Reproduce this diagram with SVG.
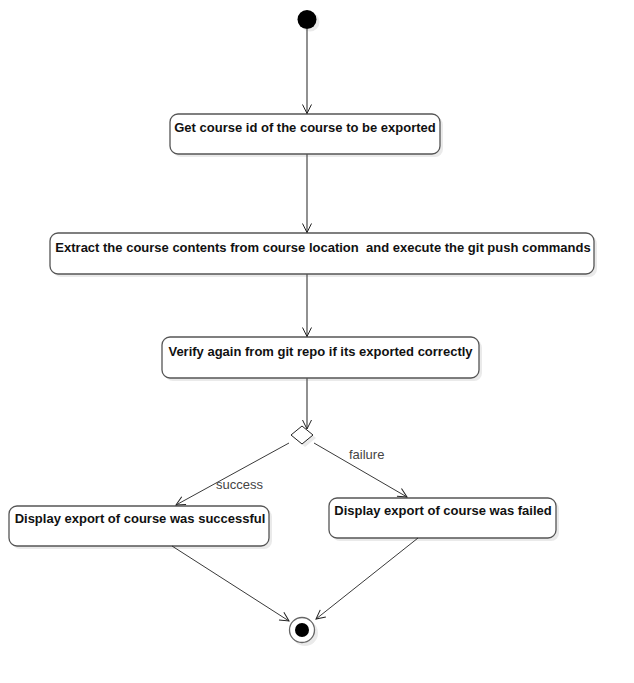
<svg xmlns="http://www.w3.org/2000/svg" width="634" height="683" viewBox="0 0 634 683">
<style>
.box{fill:#fff;stroke:#555;stroke-width:1.3}
.shadow{fill:#eaeaea;stroke:none}
.t{font-family:"Liberation Sans",Arial,sans-serif;font-size:13px;font-weight:bold;fill:#111;text-anchor:middle;white-space:pre}
.lbl{font-family:"Liberation Sans",Arial,sans-serif;font-size:13px;fill:#444}
.v{stroke:#555;stroke-width:1.3;fill:none}
.d{stroke:#222;stroke-width:0.9;fill:none}
</style>
<defs>
<marker id="arr" markerWidth="12" markerHeight="12" refX="10" refY="6" orient="auto" markerUnits="userSpaceOnUse">
<path d="M1,1.5 L10,6 L1,10.5" fill="none" stroke="#222" stroke-width="1"/>
</marker>
</defs>
<rect width="634" height="683" fill="#fff"/>
<g id="start">
<circle cx="310" cy="22" r="9.5" class="shadow"/>
<circle cx="307" cy="19.5" r="9.5" fill="#000"/>
</g>
<g id="n1">
<rect x="173" y="117" width="270" height="40" rx="8" class="shadow"/>
<rect x="170" y="114" width="270" height="40" rx="8" class="box"/>
<text x="305" y="131.5" class="t">Get course id of the course to be exported</text>
</g>
<g id="n2">
<rect x="53" y="236" width="544" height="41" rx="8" class="shadow"/>
<rect x="50" y="233" width="544" height="41" rx="8" class="box"/>
<text x="323" y="251.5" class="t" xml:space="preserve">Extract the course contents from course location  and execute the git push commands</text>
</g>
<g id="n3">
<rect x="165" y="340" width="317" height="41" rx="8" class="shadow"/>
<rect x="162" y="337" width="317" height="41" rx="8" class="box"/>
<text x="320.5" y="355.5" class="t">Verify again from git repo if its exported correctly</text>
</g>
<g id="decision">
<polygon points="305,429 316,438 305,447 294,438" class="shadow"/>
<polygon points="302,426 313,435 302,444 291,435" fill="#fff" stroke="#222" stroke-width="1"/>
</g>
<g id="n4">
<rect x="12" y="509" width="260" height="40" rx="8" class="shadow"/>
<rect x="9" y="506" width="260" height="40" rx="8" class="box"/>
<text x="140" y="522.5" class="t">Display export of course was successful</text>
</g>
<g id="n5">
<rect x="332" y="501" width="227" height="40" rx="8" class="shadow"/>
<rect x="329" y="498" width="227" height="40" rx="8" class="box"/>
<text x="443" y="514.5" class="t">Display export of course was failed</text>
</g>
<g id="end">
<circle cx="305" cy="633" r="13" class="shadow"/>
<circle cx="302" cy="630" r="12.5" fill="#fff" stroke="#666" stroke-width="1.3"/>
<circle cx="302" cy="630" r="7" fill="#000"/>
</g>
<g id="connectors">
<line x1="307" y1="29" x2="307" y2="113.5" class="v" marker-end="url(#arr)"/>
<line x1="307" y1="154" x2="307" y2="232.5" class="v" marker-end="url(#arr)"/>
<line x1="307" y1="274" x2="307" y2="336.5" class="v" marker-end="url(#arr)"/>
<line x1="307" y1="378" x2="307" y2="429" class="v" marker-end="url(#arr)"/>
<line x1="289" y1="443" x2="176" y2="505" class="d" marker-end="url(#arr)"/>
<line x1="314" y1="443" x2="407" y2="497" class="d" marker-end="url(#arr)"/>
<line x1="172" y1="546" x2="289" y2="621" class="d" marker-end="url(#arr)"/>
<line x1="418" y1="538" x2="316" y2="619" class="d" marker-end="url(#arr)"/>
<text x="216" y="489" class="lbl">success</text>
<text x="349" y="459" class="lbl">failure</text>
</g>
</svg>
